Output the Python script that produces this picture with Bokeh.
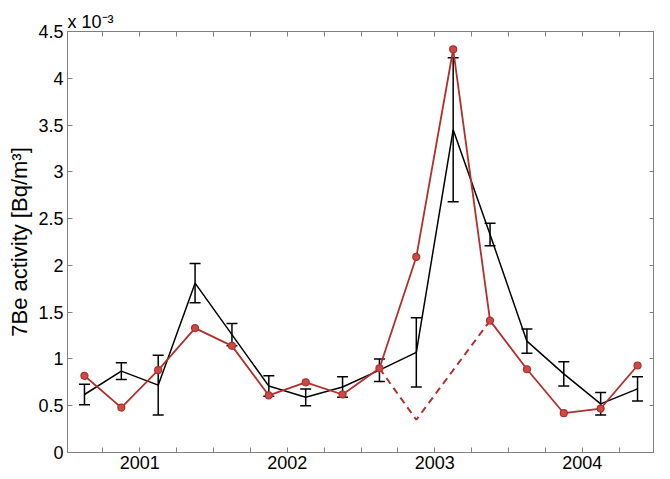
from bokeh.plotting import figure
from bokeh.models import (ColumnDataSource, Whisker, TeeHead, FixedTicker, LinearAxis, Title, Range1d, CustomJSTickFormatter)
from bokeh.embed import file_html
from bokeh.resources import INLINE

quarters = [2000.625, 2000.875, 2001.125, 2001.375, 2001.625, 2001.875, 2002.125, 2002.375,
            2002.625, 2002.875, 2003.125, 2003.375, 2003.625, 2003.875, 2004.125, 2004.375]
measured = [0.62, 0.87, 0.72, 1.81, 1.26, 0.71, 0.59, 0.70, 0.88, 1.07, 3.45, 2.33, 1.19, 0.84, 0.52, 0.68]
measured_err = [0.11, 0.09, 0.32, 0.21, 0.12, 0.11, 0.09, 0.11, 0.12, 0.37, 0.77, 0.12, 0.13, 0.13, 0.12, 0.13]
model = [0.82, 0.48, 0.88, 1.33, 1.14, 0.61, 0.75, 0.62, 0.90, 2.09, 4.31, 1.41, 0.89, 0.42, 0.47, 0.93]
alt_x = [2002.625, 2002.875, 2003.375]
alt_y = [0.90, 0.35, 1.41]

year_ticks = [2001, 2002, 2003, 2004]
quarter_ticks = [2000.75, 2001.25, 2001.5, 2001.75, 2002.25, 2002.5, 2002.75,
                 2003.25, 2003.5, 2003.75, 2004.25]
y_ticks = [0, 0.5, 1, 1.5, 2, 2.5, 3, 3.5, 4, 4.5]

FONT = "Liberation Sans"
AXC = "#808080"
RED = "#b12f2c"

p = figure(width=654, height=471, x_range=Range1d(2000.51, 2004.49), y_range=Range1d(0, 4.5),
           output_backend="svg", toolbar_location=None,
           x_axis_location=None, y_axis_location=None)
p.min_border_left = 67
p.min_border_top = 31
p.min_border_right = 0
p.min_border_bottom = 0
p.grid.visible = False
p.outline_line_color = AXC
p.background_fill_color = "white"
p.border_fill_color = "white"

xt = FixedTicker(ticks=year_ticks, minor_ticks=quarter_ticks)
yt = FixedTicker(ticks=y_ticks, minor_ticks=[])
blank = CustomJSTickFormatter(code="return ''")

def style(ax, labels=True, standoff=4):
    ax.axis_line_color = AXC
    ax.major_tick_line_color = AXC
    ax.minor_tick_line_color = AXC
    ax.major_tick_in = 5
    ax.major_tick_out = 0
    ax.minor_tick_in = 5
    ax.minor_tick_out = 0
    ax.major_label_text_font = FONT
    ax.major_label_text_font_size = "18px"
    ax.major_label_text_color = "black"
    ax.major_label_standoff = standoff if labels else 0
    if not labels:
        ax.formatter = blank

bx = LinearAxis(ticker=xt)
style(bx, standoff=3)
p.add_layout(bx, "below")
tx = LinearAxis(ticker=xt)
style(tx, labels=False)
p.add_layout(tx, "above")
ly = LinearAxis(ticker=yt, axis_label="7Be activity [Bq/m³]")
style(ly, standoff=4)
ly.axis_label_text_font = FONT
ly.axis_label_text_font_size = "22px"
ly.axis_label_text_font_style = "normal"
ly.axis_label_text_color = "black"
ly.axis_label_standoff = 3
p.add_layout(ly, "left")
ry = LinearAxis(ticker=yt)
style(ry, labels=False)
p.add_layout(ry, "right")

p.add_layout(Title(text="x 10⁻³", align="left", text_font=FONT, text_font_size="18px",
                   text_font_style="normal", text_color="black", standoff=0, offset=0), "above")

src = ColumnDataSource(dict(x=quarters, y=measured,
                            lo=[m - e for m, e in zip(measured, measured_err)],
                            hi=[m + e for m, e in zip(measured, measured_err)],
                            model=model))

p.line("x", "y", source=src, line_color="black", line_width=1.5)
w = Whisker(base="x", lower="lo", upper="hi", source=src,
            line_color="black", line_width=1.5,
            upper_head=TeeHead(size=11, line_color="black", line_width=1.5),
            lower_head=TeeHead(size=11, line_color="black", line_width=1.5))
p.add_layout(w)

p.line(alt_x, alt_y, line_color=RED, line_width=2, line_dash="7 5")
p.line("x", "model", source=src, line_color=RED, line_width=1.8)
p.scatter("x", "model", source=src, size=7, fill_color="#cc4a45", line_color=RED, line_width=1.2)

open("out.html", "w").write(file_html(p, INLINE))
